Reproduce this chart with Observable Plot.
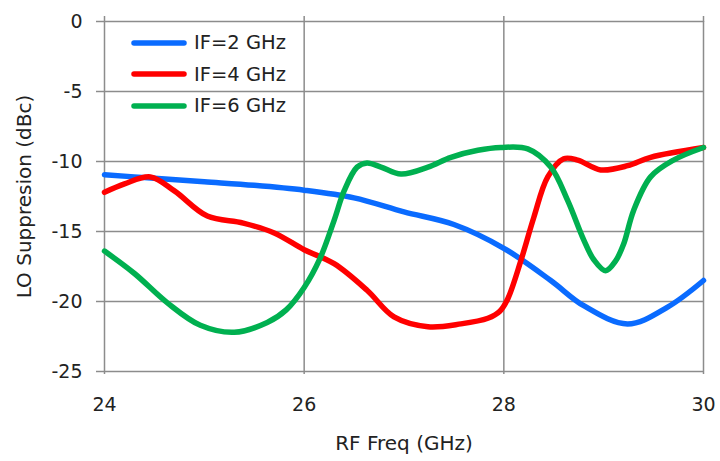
<!DOCTYPE html>
<html>
<head>
<meta charset="utf-8">
<script src="https://cdn.jsdelivr.net/npm/d3@7"></script>
<script src="https://cdn.jsdelivr.net/npm/@observablehq/plot@0.6"></script>
<style>
  html, body { margin: 0; padding: 0; background: #fff; }
  #wrap { position: relative; width: 720px; height: 461px; font-family: "DejaVu Sans", sans-serif; color: #222; }
  #legend { position: absolute; left: 131px; top: 27px; }
  .row { display: flex; align-items: center; height: 31.5px; font-size: 19.5px; }
  .row svg { margin-right: 7px; }
</style>
</head>
<body>
<div id="wrap"><div id="chart"></div><div id="legend"></div></div>
<script>
// ---- data ----
const seriesNames = ["IF=2 GHz", "IF=4 GHz", "IF=6 GHz"];
const seriesColors = ["#0a6bff", "#ff0000", "#00b050"];
const xTicks = [24, 26, 28, 30];
const yTicks = [0, -5, -10, -15, -20, -25];
const xTitle = "RF Freq (GHz)";
const yTitle = "LO Suppresion (dBc)";

const if2Freq = [24, 24.5, 25, 25.5, 26, 26.5, 27, 27.5, 28, 28.47, 28.8, 29.24, 29.64, 30];
const if2Val  = [-10.95, -11.2, -11.45, -11.7, -12.05, -12.6, -13.6, -14.5, -16.2, -18.5, -20.3, -21.6, -20.4, -18.5];

const if4Freq = [24, 24.2, 24.46, 24.7, 25.03, 25.39, 25.7, 26, 26.3, 26.63, 26.9, 27.24, 27.57, 27.84, 27.96, 28.04, 28.17, 28.3, 28.44, 28.6, 28.74, 28.97, 29.24, 29.47, 30];
const if4Val  = [-12.2, -11.6, -11.1, -12.1, -13.9, -14.4, -15.1, -16.3, -17.3, -19.2, -21.1, -21.8, -21.6, -21.2, -20.7, -19.8, -17.1, -14.0, -11.1, -9.8, -9.9, -10.6, -10.3, -9.7, -9.0];

const if6Freq = [24, 24.3, 24.63, 24.96, 25.3, 25.63, 25.82, 26, 26.16, 26.3, 26.4, 26.53, 26.63, 26.77, 26.97, 27.24, 27.47, 27.74, 27.97, 28.24, 28.47, 28.64, 28.8, 28.9, 29.02, 29.12, 29.2, 29.3, 29.47, 29.7, 30];
const if6Val  = [-16.4, -18.0, -20.1, -21.7, -22.2, -21.5, -20.6, -19.0, -16.9, -14.2, -12.1, -10.4, -10.1, -10.4, -10.9, -10.4, -9.7, -9.2, -9.0, -9.1, -10.4, -12.8, -15.6, -17.0, -17.8, -17.1, -15.9, -13.5, -11.1, -9.9, -9.0];

const seriesFreq = [if2Freq, if4Freq, if6Freq];
const seriesVal = [if2Val, if4Val, if6Val];

// ---- build table ----
const rows = [];
seriesNames.forEach((name, s) => {
  seriesFreq[s].forEach((f, i) => rows.push({ series: name, freq: f, val: seriesVal[s][i] }));
});

const gridStyle = { stroke: "#8c8c8c", strokeOpacity: 1, strokeWidth: 1.5 };

const chart = Plot.plot({
  width: 720,
  height: 461,
  marginLeft: 104,
  marginRight: 17,
  marginTop: 21,
  marginBottom: 90,
  style: { fontFamily: "DejaVu Sans, sans-serif", fontSize: "19px", color: "#222", background: "#fff" },
  x: { domain: [24, 30] },
  y: { domain: [-25, 0] },
  color: { domain: seriesNames, range: seriesColors },
  marks: [
    Plot.gridX(xTicks, gridStyle),
    Plot.gridY(yTicks, gridStyle),
    Plot.axisX(xTicks, { tickSize: 3, tickPadding: 23, label: null, stroke: "#8c8c8c", strokeWidth: 1.5, tickFormat: d => String(d) }),
    Plot.axisX(xTicks, { anchor: "top", tickSize: 6, text: null, label: null, stroke: "#8c8c8c", strokeWidth: 1.5 }),
    Plot.axisY(yTicks, { tickSize: 8, tickPadding: 14, label: null, stroke: "#8c8c8c", strokeWidth: 1.5, tickFormat: d => String(d) }),
    Plot.line(rows, { x: "freq", y: "val", z: "series", stroke: "series", strokeWidth: 5.5, curve: "catmull-rom", strokeLinecap: "round", strokeLinejoin: "round" }),
    Plot.text([yTitle], { frameAnchor: "left", dx: -80, rotate: -90, textAnchor: "middle", lineAnchor: "middle", fontSize: 20, fill: "#222" }),
    Plot.text([xTitle], { frameAnchor: "bottom", dy: 72, textAnchor: "middle", lineAnchor: "middle", fontSize: 20, fill: "#222" })
  ]
});
document.getElementById("chart").appendChild(chart);

// ---- legend ----
const legend = document.getElementById("legend");
seriesNames.forEach((name, i) => {
  const row = document.createElement("div");
  row.className = "row";
  row.innerHTML = `<svg width="56" height="10"><line x1="3" y1="5" x2="53" y2="5" stroke="${seriesColors[i]}" stroke-width="5.5" stroke-linecap="round"/></svg><span>${name}</span>`;
  legend.appendChild(row);
});
</script>
</body>
</html>
